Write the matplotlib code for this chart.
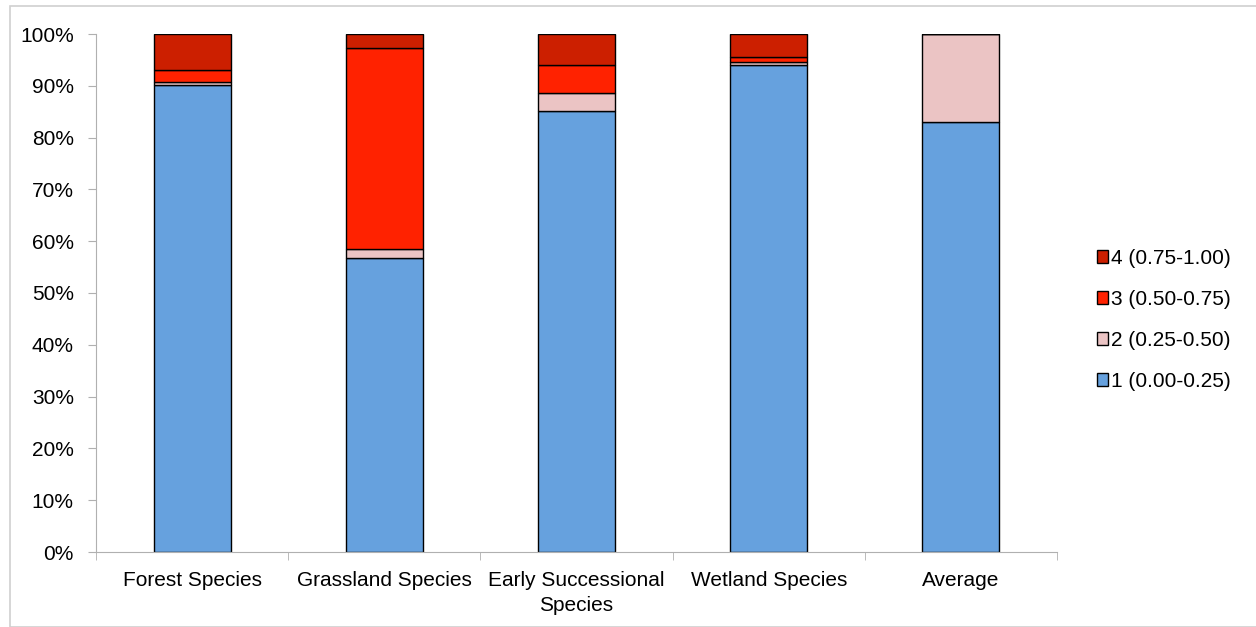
import matplotlib.pyplot as plt
from matplotlib.patches import Rectangle
from matplotlib.ticker import FixedLocator, PercentFormatter
import numpy as np

plt.rcParams['font.family'] = ['Liberation Sans', 'DejaVu Sans']

categories = ["Forest Species", "Grassland Species", "Early Successional\nSpecies",
              "Wetland Species", "Average"]
cls1 = [90.1, 56.7, 85.2, 94.0, 83.0]
cls2 = [0.6, 1.7, 3.5, 0.5, 17.0]
cls3 = [2.4, 38.9, 5.4, 1.1, 0.0]
cls4 = [6.9, 2.7, 5.9, 4.4, 0.0]
labels = ["1 (0.00-0.25)", "2 (0.25-0.50)", "3 (0.50-0.75)", "4 (0.75-1.00)"]
colors = ["#66a1de", "#ebc4c4", "#ff2200", "#cc1f00"]

fig = plt.figure(figsize=(12.56, 6.27), dpi=100)
fig.patches.append(Rectangle((10 / 1256, 0), 1.0, 1 - 6 / 627, transform=fig.transFigure,
                             fill=False, edgecolor="#d0d0d0", linewidth=1.2))
ax = fig.add_axes([96 / 1256, 75 / 627, 961 / 1256, 518 / 627])

x = np.arange(len(categories))
bottom = np.zeros(len(categories))
handles = []
for vals, lab, col in zip([cls1, cls2, cls3, cls4], labels, colors):
    vals = np.array(vals)
    b = ax.bar(x, vals, 0.4, bottom=bottom, color=col, edgecolor="black",
               linewidth=1.0, label=lab)
    handles.append(b)
    bottom += vals

ax.set_xlim(-0.5, len(categories) - 0.5)
ax.set_ylim(0, 100)
ax.set_yticks(np.arange(0, 101, 10))
ax.yaxis.set_major_formatter(PercentFormatter(decimals=0))
ax.set_xticks(x)
ax.set_xticklabels(categories, fontsize=15, linespacing=1.35)
ax.xaxis.set_minor_locator(FixedLocator(np.arange(-0.5, len(categories), 1)))
ax.tick_params(axis="x", which="major", length=0, pad=14)
ax.tick_params(axis="x", which="minor", length=6, color="#b0b0b0")
ax.tick_params(axis="y", length=6, color="#b0b0b0", labelsize=15, pad=10)
for side in ["top", "right"]:
    ax.spines[side].set_visible(False)
for side in ["left", "bottom"]:
    ax.spines[side].set_color("#b0b0b0")

ax.legend(handles[::-1], labels[::-1], loc="center left", bbox_to_anchor=(1.022, 0.448),
          frameon=False, fontsize=15, handlelength=0.55, handleheight=0.55,
          handletextpad=0.15, labelspacing=1.05)

fig.savefig("out.png", dpi=100)
